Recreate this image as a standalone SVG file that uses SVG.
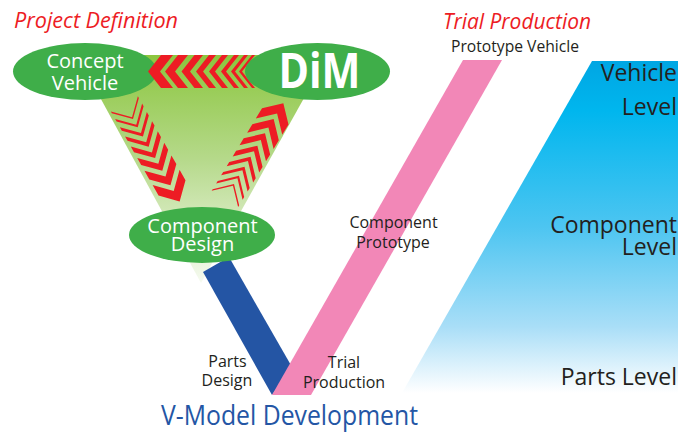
<svg xmlns="http://www.w3.org/2000/svg" xmlns:xlink="http://www.w3.org/1999/xlink" width="687" height="432" viewBox="0 0 687 432">
  <style>
    .ell { fill: #3fae49; }
    .chev { fill: #ed1c24; }
    .wt { fill: #ffffff; font-family: "Open Sans", "Noto Sans", sans-serif; text-anchor: middle; }
    .dk { fill: #231f20; font-family: "Open Sans", "Noto Sans", sans-serif; }
    .red { fill: #ed1c24; font-family: "Open Sans", "Noto Sans", sans-serif; font-style: italic; font-size: 21px; }
  </style>
  <defs>
    <linearGradient id="triGrad" gradientUnits="userSpaceOnUse" x1="0" y1="55" x2="0" y2="285">
      <stop offset="0" stop-color="#8cc63f"/>
      <stop offset="0.45" stop-color="#b5d98a"/>
      <stop offset="1" stop-color="#f7fbf2"/>
    </linearGradient>
    <linearGradient id="panelGrad" gradientUnits="userSpaceOnUse" x1="0" y1="61" x2="0" y2="393">
      <stop offset="0" stop-color="#00a6e3"/>
      <stop offset="0.15" stop-color="#00b6ee"/>
      <stop offset="0.5" stop-color="#4dc5f1"/>
      <stop offset="0.8" stop-color="#a9def7"/>
      <stop offset="1" stop-color="#ffffff"/>
    </linearGradient>
    <clipPath id="triClip">
      <polygon points="77,55 328,55 201,283"/>
    </clipPath>
    <g id="chevBand">
      <polygon class="chev" points="0,0 -15.5,-15.5 -17.5,-15.5 -2,0 -17.5,15.5 -15.5,15.5"/>
      <polygon class="chev" points="9.6,0 -5.9,-15.5 -8.9,-15.5 6.6,0 -8.9,15.5 -5.9,15.5"/>
      <polygon class="chev" points="20.2,0 4.7,-15.5 0.7,-15.5 16.2,0 0.7,15.5 4.7,15.5"/>
      <polygon class="chev" points="31.8,0 16.3,-15.5 11.3,-15.5 26.8,0 11.3,15.5 16.3,15.5"/>
      <polygon class="chev" points="44.9,0 29.4,-15.5 22.9,-15.5 38.4,0 22.9,15.5 29.4,15.5"/>
      <polygon class="chev" points="59.5,0 44,-15.5 36,-15.5 51.5,0 36,15.5 44,15.5"/>
      <polygon class="chev" points="76.1,0 60.6,-15.5 50.6,-15.5 66.1,0 50.6,15.5 60.6,15.5"/>
      <polygon class="chev" points="94.7,0 79.2,-15.5 67.2,-15.5 82.7,0 67.2,15.5 79.2,15.5"/>
    </g>
  </defs>

  <!-- background triangle -->
  <polygon id="cycle-area" points="77,55 328,55 201,283" fill="url(#triGrad)"/>

  <!-- blue panel (levels) -->
  <polygon id="levels-panel" points="592,61 678,61 678,393 402,393" fill="url(#panelGrad)"/>

  <!-- V bars -->
  <g id="parts-design-bar">
    <polygon points="203,272 229,257 292,367 272,395" fill="#2455a4"/>
  </g>
  <g id="trial-production-bar">
    <polygon points="272,395 311,395 502,60 463,60" fill="#f287b7"/>
  </g>

  <g id="concept-vehicle">
    <ellipse class="ell" cx="85" cy="71.5" rx="72" ry="28.5"/>
    <text class="wt" x="85" y="68" font-size="20">Concept</text>
    <text class="wt" x="85" y="89.5" font-size="20">Vehicle</text>
  </g>

  <!-- connectors: chevron arrows -->
  <g id="connectors" clip-path="url(#triClip)">
    <g id="dim-to-concept">
      <polygon class="chev" points="148,71.5 161,55 173,55 160,71.5 173,88 161,88"/>
      <polygon class="chev" points="165,71.5 178,55 188,55 175,71.5 188,88 178,88"/>
      <polygon class="chev" points="181.5,71.5 194.5,55 203,55 190,71.5 203,88 194.5,88"/>
      <polygon class="chev" points="196,71.5 209,55 216,55 203,71.5 216,88 209,88"/>
      <polygon class="chev" points="209,71.5 222,55 228,55 215,71.5 228,88 222,88"/>
      <polygon class="chev" points="221,71.5 234,55 239,55 226,71.5 239,88 234,88"/>
      <polygon class="chev" points="231,71.5 244,55 248,55 235,71.5 248,88 244,88"/>
      <polygon class="chev" points="239,71.5 252,55 255,55 242,71.5 255,88 252,88"/>
      <polygon class="chev" points="246,71.5 259,55 261.5,55 248.5,71.5 261.5,88 259,88"/>
    </g>
    <use id="concept-to-component" xlink:href="#chevBand" href="#chevBand" transform="translate(133,119) rotate(60.5)"/>
    <use id="component-to-dim" xlink:href="#chevBand" href="#chevBand" transform="translate(234,184) rotate(-58.6)"/>
  </g>

  <g id="dim">
    <ellipse class="ell" cx="317.5" cy="71.5" rx="72.5" ry="28.5"/>
    <text class="wt" x="319.5" y="88" font-size="49" font-weight="bold" textLength="82" lengthAdjust="spacingAndGlyphs">DiM</text>
  </g>

  <g id="component-design">
    <ellipse class="ell" cx="202" cy="235" rx="73" ry="28"/>
    <text class="wt" x="202.5" y="233" font-size="20">Component</text>
    <text class="wt" x="202.5" y="250.5" font-size="20">Design</text>
  </g>

  <!-- titles -->
  <text id="project-definition" class="red" x="14" y="28" textLength="164" lengthAdjust="spacingAndGlyphs">Project Definition</text>
  <text id="trial-production-title" class="red" x="443" y="29" textLength="148" lengthAdjust="spacingAndGlyphs">Trial Production</text>
  <text class="dk" x="451" y="52" font-size="16" textLength="128" lengthAdjust="spacingAndGlyphs">Prototype Vehicle</text>

  <!-- level labels -->
  <g id="level-labels" class="dk" font-size="23" text-anchor="end">
    <text x="677" y="81">Vehicle</text>
    <text x="677" y="115">Level</text>
    <text x="677" y="233">Component</text>
    <text x="677" y="255">Level</text>
    <text x="677" y="385">Parts Level</text>
  </g>

  <!-- bar labels -->
  <g class="dk" font-size="16" text-anchor="middle">
    <text x="393.5" y="228">Component</text>
    <text x="393" y="248">Prototype</text>
    <text x="227.5" y="367">Parts</text>
    <text x="227" y="386">Design</text>
    <text x="344" y="368">Trial</text>
    <text x="344" y="388">Production</text>
  </g>

  <text id="v-model-title" x="161" y="425" font-family="Open Sans, Noto Sans, sans-serif" font-size="27.5" fill="#2456a5" textLength="257" lengthAdjust="spacingAndGlyphs">V-Model Development</text>
</svg>
